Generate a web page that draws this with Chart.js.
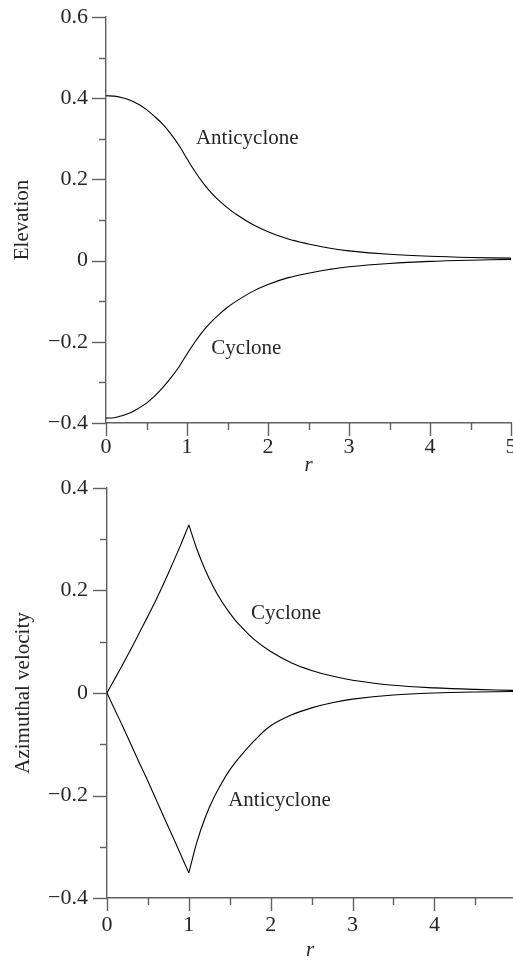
<!DOCTYPE html>
<html><head><meta charset="utf-8">
<script src="https://cdn.jsdelivr.net/npm/chart.js@4.4.0/dist/chart.umd.min.js"></script>
<style>
html,body{margin:0;padding:0;background:#fff;overflow:hidden;width:513px;height:961px;}
.box{position:absolute;left:0;}
</style></head><body>
<div class="box" style="top:0;width:530px;height:480px"><canvas id="c1" width="530" height="480"></canvas></div>
<div class="box" style="top:460px;width:530px;height:520px"><canvas id="c2" width="530" height="520"></canvas></div>
<script>
// ---- data ----
const rElev = [0,0.1,0.2,0.3,0.4,0.5,0.6,0.7,0.8,0.9,1.0,1.1,1.2,1.3,1.4,1.5,1.6,1.8,2.0,2.25,2.5,2.75,3.0,3.5,4.0,4.5,5.0];
const elevAnticyclone = [0.406,0.405,0.401,0.395,0.385,0.372,0.355,0.336,0.312,0.284,0.251,0.219,0.191,0.167,0.147,0.130,0.115,0.090,0.071,0.053,0.041,0.031,0.024,0.0155,0.0106,0.0077,0.006];
const elevCyclone = [-0.388,-0.387,-0.382,-0.375,-0.364,-0.351,-0.334,-0.313,-0.289,-0.262,-0.230,-0.200,-0.173,-0.151,-0.132,-0.115,-0.101,-0.077,-0.059,-0.042,-0.031,-0.022,-0.015,-0.007,-0.002,0.001,0.003];

const rInner = [0,0.1,0.2,0.3,0.4,0.5,0.6,0.7,0.8,0.9,1.0];
const rOuter = [1.0,1.1,1.2,1.3,1.4,1.5,1.6,1.8,2.0,2.25,2.5,2.75,3.0,3.5,4.0,4.5,5.0];
const velCycloneInner = [0,0.029,0.058,0.088,0.119,0.150,0.182,0.216,0.252,0.289,0.328];
const velCycloneOuter = [0.328,0.280,0.240,0.207,0.179,0.156,0.136,0.104,0.081,0.059,0.044,0.033,0.025,0.015,0.010,0.007,0.005];
const velAnticycloneInner = [0,-0.034,-0.068,-0.103,-0.138,-0.172,-0.208,-0.244,-0.279,-0.315,-0.351];
const velAnticycloneOuter = [-0.351,-0.290,-0.243,-0.206,-0.176,-0.150,-0.129,-0.093,-0.064,-0.043,-0.029,-0.019,-0.012,-0.004,0.000,0.002,0.003];

const elevLabels = [{text:'Anticyclone', x:1.11, y:0.300},{text:'Cyclone', x:1.30, y:-0.217}];
const velLabels = [{text:'Cyclone', x:1.76, y:0.156},{text:'Anticyclone', x:1.48, y:-0.209}];

// ---- styling ----
const FONT = "'Liberation Serif','Times New Roman',serif";
const AXIS = '#606060';
const TEXT = '#262626';
const FS = 21;
const TFS = 22;

function fmtY(v){
  if (Math.round(v*10) % 2 !== 0) return '';
  if (Math.abs(v) < 1e-9) return '0';
  return (v < 0 ? '\u2212' : '') + Math.abs(v).toFixed(1);
}
function fmtX(v){
  return Math.abs(v - Math.round(v)) < 1e-9 ? String(Math.round(v)) : '';
}
function pts(xs, ys){ return xs.map((x,i)=>({x:x, y:ys[i]})); }

const tickPlugin = {
  id:'tickMarks',
  afterDraw(chart){
    const ctx = chart.ctx, xs = chart.scales.x, ys = chart.scales.y;
    const ca = chart.chartArea;
    ctx.save();
    ctx.strokeStyle = AXIS; ctx.lineWidth = 1.4;
    ys.ticks.forEach(t=>{
      const p = Math.round(ys.getPixelForValue(t.value)) + 0.5;
      const len = fmtY(t.value) ? 14 : 7;
      ctx.beginPath(); ctx.moveTo(ca.left, p); ctx.lineTo(ca.left - len, p); ctx.stroke();
    });
    xs.ticks.forEach(t=>{
      const p = Math.round(xs.getPixelForValue(t.value)) + 0.5;
      const len = fmtX(t.value) ? 13 : 7;
      ctx.beginPath(); ctx.moveTo(p, ca.bottom); ctx.lineTo(p, ca.bottom + len); ctx.stroke();
    });
    ctx.restore();
  }
};
const labelPlugin = {
  id:'curveLabels',
  afterDraw(chart){
    const ctx = chart.ctx, xs = chart.scales.x, ys = chart.scales.y;
    const list = chart.options.plugins.curveLabels.items;
    ctx.save();
    ctx.font = FS + 'px ' + FONT; ctx.fillStyle = TEXT;
    ctx.textAlign = 'left'; ctx.textBaseline = 'middle';
    list.forEach(l=>ctx.fillText(l.text, xs.getPixelForValue(l.x), ys.getPixelForValue(l.y)));
    ctx.restore();
  }
};

function lineDs(data){
  return {data:data, borderColor:'#000', borderWidth:1.1, pointRadius:0, fill:false,
          tension:0.35};
}
function zeroPad(s){ s.paddingLeft=0; s.paddingRight=0; s.paddingTop=0; s.paddingBottom=0; }

function makeChart(id, cfg){
  return new Chart(document.getElementById(id), {
    type:'line',
    data:{datasets:cfg.datasets},
    plugins:[tickPlugin, labelPlugin],
    options:{
      responsive:false, animation:false, devicePixelRatio:1,
      layout:{padding:cfg.padding},
      plugins:{legend:{display:false}, tooltip:{enabled:false}, curveLabels:{items:cfg.labels}},
      scales:{
        x:{type:'linear', min:0, max:cfg.xmax,
           grid:{display:false, drawTicks:false},
           border:{display:true, color:AXIS, width:1.4},
           ticks:{stepSize:0.5, includeBounds:false, autoSkip:false, maxRotation:0,
                  padding:cfg.xpad, color:TEXT, font:{family:FONT, size:TFS}, callback:fmtX},
           title:{display:true, text:'r', color:TEXT, font:{family:FONT, size:FS, style:'italic'},
                  padding:{top:0, bottom:cfg.xtitlePad}},
           afterFit:s=>{ s.height = cfg.xh; zeroPad(s); }},
        y:{type:'linear', min:cfg.ymin, max:cfg.ymax,
           grid:{display:false, drawTicks:false},
           border:{display:true, color:AXIS, width:1.4},
           ticks:{stepSize:0.1, includeBounds:false, autoSkip:false,
                  padding:cfg.ypad, color:TEXT, font:{family:FONT, size:TFS}, callback:fmtY},
           title:{display:true, text:cfg.ytitle, color:TEXT, font:{family:FONT, size:FS},
                  padding:{top:cfg.ytitlePad, bottom:0}},
           afterFit:s=>{ s.width = cfg.yw; zeroPad(s); }}
      }
    }
  });
}

makeChart('c1', {
  datasets:[lineDs(pts(rElev, elevAnticyclone)), lineDs(pts(rElev, elevCyclone))],
  labels:elevLabels, padding:{left:0, top:17, right:19, bottom:0},
  xmax:5, xpad:11.5, xtitlePad:2, xh:57, ymin:-0.4, ymax:0.6, ypad:18, yw:106,
  ytitle:'Elevation', ytitlePad:9.6
});
makeChart('c2', {
  datasets:[lineDs(pts(rInner, velCycloneInner)), lineDs(pts(rOuter, velCycloneOuter)),
            lineDs(pts(rInner, velAnticycloneInner)), lineDs(pts(rOuter, velAnticycloneOuter))],
  labels:velLabels, padding:{left:0, top:28, right:17, bottom:0},
  xmax:4.96, xpad:14.5, xtitlePad:17, xh:82, ymin:-0.4, ymax:0.4, ypad:19, yw:107,
  ytitle:'Azimuthal velocity', ytitlePad:10.9
});
</script>
</body></html>
